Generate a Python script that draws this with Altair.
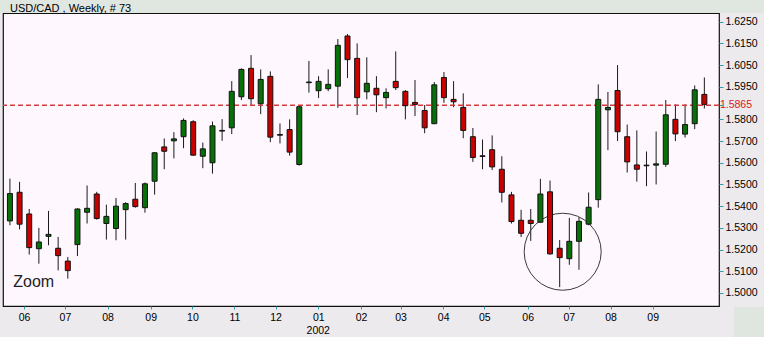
import altair as alt
import pandas as pd

# ---- data (weekly USD/CAD candles) ----
week = list(range(73))
opens = [1.5332, 1.5464, 1.5364, 1.5204, 1.5261, 1.5206, 1.5147, 1.5223, 1.5372, 1.5456,
         1.5320, 1.5297, 1.5384, 1.5432, 1.5393, 1.5515, 1.5673, 1.5701, 1.5720, 1.5789,
         1.5630, 1.5600, 1.5746, 1.5761, 1.5904, 1.6035, 1.5872, 1.5998, 1.5730, 1.5753,
         1.5592, 1.5969, 1.5932, 1.5941, 1.5953, 1.6184, 1.6081, 1.5927, 1.5943, 1.5900,
         1.5975, 1.5929, 1.5878, 1.5841, 1.5780, 1.5993, 1.5892, 1.5855, 1.5720, 1.5632,
         1.5660, 1.5570, 1.5452, 1.5335, 1.5335, 1.5326, 1.5466, 1.5206, 1.5158, 1.5238,
         1.5317, 1.5430, 1.5844, 1.5933, 1.5720, 1.5590, 1.5586, 1.5589, 1.5593, 1.5800,
         1.5732, 1.5780, 1.5915]
highs = [1.5527, 1.5512, 1.5387, 1.5300, 1.5378, 1.5258, 1.5166, 1.5390, 1.5495, 1.5466,
         1.5407, 1.5438, 1.5418, 1.5507, 1.5509, 1.5648, 1.5712, 1.5741, 1.5804, 1.5796,
         1.5693, 1.5790, 1.5801, 1.5976, 1.6035, 1.6096, 1.6030, 1.6021, 1.5781, 1.5800,
         1.5866, 1.6069, 1.5999, 1.6030, 1.6170, 1.6193, 1.6150, 1.6086, 1.5999, 1.5943,
         1.6113, 1.5935, 1.5981, 1.5866, 1.5972, 1.6018, 1.5976, 1.5920, 1.5760, 1.5707,
         1.5726, 1.5630, 1.5466, 1.5383, 1.5387, 1.5526, 1.5518, 1.5244, 1.5346, 1.5349,
         1.5463, 1.5961, 1.5926, 1.6050, 1.5776, 1.5749, 1.5652, 1.5744, 1.5889, 1.5869,
         1.5869, 1.5956, 1.5993]
lows = [1.5312, 1.5293, 1.5177, 1.5135, 1.5220, 1.5104, 1.5066, 1.5170, 1.5320, 1.5338,
        1.5246, 1.5243, 1.5246, 1.5393, 1.5370, 1.5453, 1.5570, 1.5620, 1.5667, 1.5632,
        1.5575, 1.5550, 1.5701, 1.5732, 1.5889, 1.5861, 1.5824, 1.5695, 1.5689, 1.5633,
        1.5587, 1.5923, 1.5898, 1.5930, 1.5853, 1.5990, 1.5820, 1.5892, 1.5833, 1.5850,
        1.5935, 1.5800, 1.5815, 1.5736, 1.5778, 1.5876, 1.5856, 1.5713, 1.5604, 1.5570,
        1.5566, 1.5417, 1.5320, 1.5258, 1.5240, 1.5323, 1.5177, 1.5027, 1.5130, 1.5107,
        1.5312, 1.5393, 1.5658, 1.5700, 1.5555, 1.5513, 1.5492, 1.5500, 1.5581, 1.5700,
        1.5716, 1.5755, 1.5850]
closes = [1.5458, 1.5317, 1.5209, 1.5235, 1.5270, 1.5172, 1.5103, 1.5387, 1.5390, 1.5343,
          1.5353, 1.5400, 1.5412, 1.5398, 1.5503, 1.5646, 1.5653, 1.5710, 1.5795, 1.5635,
          1.5664, 1.5770, 1.5749, 1.5929, 1.6030, 1.5895, 1.5984, 1.5718, 1.5727, 1.5649,
          1.5858, 1.5972, 1.5975, 1.5961, 1.6141, 1.6075, 1.5900, 1.5966, 1.5913, 1.5924,
          1.5946, 1.5863, 1.5869, 1.5761, 1.5959, 1.5900, 1.5881, 1.5749, 1.5624, 1.5629,
          1.5581, 1.5464, 1.5329, 1.5275, 1.5320, 1.5456, 1.5180, 1.5163, 1.5238, 1.5330,
          1.5395, 1.5892, 1.5855, 1.5743, 1.5604, 1.5570, 1.5589, 1.5595, 1.5821, 1.5733,
          1.5776, 1.5936, 1.5869]

month_pos = [1.46, 5.7, 10.12, 14.59, 18.92, 23.28, 27.54, 31.97, 36.4, 40.5,
             44.92, 49.18, 53.68, 57.95, 62.27, 66.64]
month_labels = ["06", "07", "08", "09", "10", "11", "12", "01", "02", "03",
                "04", "05", "06", "07", "08", "09"]
year_label = "2002"          # printed under the January 2002 tick
year_pos = 31.97
price_ticks = [1.625, 1.615, 1.605, 1.595, 1.5865, 1.58, 1.57, 1.56, 1.55,
               1.54, 1.53, 1.52, 1.51, 1.50]
last_price = 1.5865
zoom_center = [57.31, 1.5190]   # week index, price of the circled area
zoom_label = "Zoom"
title_text = "USD/CAD , Weekly, # 73"

df = pd.DataFrame({"week": week, "open": opens, "high": highs,
                   "low": lows, "close": closes})
df["dir"] = ["up" if c >= o else "down" for o, c in zip(opens, closes)]

# ---- styling ----
FONT = "Liberation Sans"
TEAL = "#2E9FA8"
W, H = 716, 293
X0, X1 = -0.2, 73.0
Y0, Y1 = 1.494, 1.629
PX_X = W / (X1 - X0)      # pixels per week
PX_Y = H / (Y1 - Y0)      # pixels per price unit

x_scale = alt.Scale(domain=[X0, X1], nice=False, zero=False)
y_scale = alt.Scale(domain=[Y0, Y1], nice=False, zero=False)

labels_js = "[" + ",".join("'%s'" % l for l in month_labels) + "]"
pos_js = "[" + ",".join(str(p) for p in month_pos) + "]"
x_label_expr = "%s[indexof(%s, datum.value)]" % (labels_js, pos_js)
y_label_expr = "datum.value == %s ? '' : datum.label" % last_price

x_axis = alt.Axis(values=month_pos, labelExpr=x_label_expr, title=None, grid=False,
                  domain=False, tickColor=TEAL, tickSize=3, labelPadding=3,
                  labelFont=FONT, labelFontSize=10.5, labelColor="#000",
                  labelFlush=False, labelOverlap=False, zindex=1)
y_axis = alt.Axis(values=price_ticks, format=".4f", orient="right", title=None,
                  grid=False, domain=False, tickColor=TEAL, tickSize=4,
                  labelPadding=2, labelFont=FONT, labelFontSize=10.5,
                  labelColor="#000", labelExpr=y_label_expr,
                  labelOverlap=False, labelFlush=False, zindex=1)

dummy = pd.DataFrame({"a": [0]})

top_band = alt.Chart(dummy).mark_rect(color="#E0E6E0").encode(
    x=alt.value(-3), x2=alt.value(W + 45), y=alt.value(-13), y2=alt.value(0))
corner = alt.Chart(dummy).mark_rect(color="#DFE6DF").encode(
    x=alt.value(731), x2=alt.value(W + 45), y=alt.value(H + 1), y2=alt.value(H + 31))

base = alt.Chart(df)
wicks = base.mark_rule(color="#1A1A1A", strokeWidth=1, clip=True).encode(
    x=alt.X("week:Q", scale=x_scale, axis=x_axis),
    y=alt.Y("low:Q", scale=y_scale, axis=y_axis),
    y2="high:Q")

last_rule = alt.Chart(pd.DataFrame({"p": [last_price]})).mark_rule(
    color="#D43A3A", strokeDash=[5, 3], strokeWidth=1.5).encode(
    y=alt.Y("p:Q", scale=y_scale, axis=y_axis))

circle = alt.Chart(pd.DataFrame({"w": [zoom_center[0]], "p": [zoom_center[1]]})).mark_point(
    shape="circle", size=5929, filled=False, stroke="#3A3A3A", strokeWidth=1,
    opacity=1).encode(
    x=alt.X("w:Q", scale=x_scale, axis=x_axis),
    y=alt.Y("p:Q", scale=y_scale, axis=y_axis))

bodies = base.mark_bar(size=5, stroke="#111", strokeWidth=1, clip=True).encode(
    x=alt.X("week:Q", scale=x_scale, axis=x_axis),
    y=alt.Y("open:Q", scale=y_scale, axis=y_axis),
    y2="close:Q",
    color=alt.Color("dir:N", scale=alt.Scale(domain=["up", "down"],
                                             range=["#087008", "#C80000"]),
                    legend=None))

zoom_text = alt.Chart(pd.DataFrame({"w": [0.34], "p": [1.5026], "t": [zoom_label]})).mark_text(
    align="left", baseline="alphabetic", font=FONT, fontSize=16, color="#222").encode(
    x=alt.X("w:Q", scale=x_scale, axis=x_axis),
    y=alt.Y("p:Q", scale=y_scale, axis=y_axis),
    text="t:N")

# price flag for the last close, just right of the plot on the price scale
flag = alt.Chart(pd.DataFrame({"w": [X1 + 6 / PX_X], "p": [last_price],
                               "t": ["%.4f" % last_price]})).mark_text(
    align="left", baseline="middle", font=FONT, fontSize=10.5, color="#D42020").encode(
    x=alt.X("w:Q", scale=x_scale, axis=x_axis),
    y=alt.Y("p:Q", scale=y_scale, axis=y_axis),
    text="t:N")

# year under the January tick
year_text = alt.Chart(pd.DataFrame({"w": [year_pos], "p": [Y0 - 27.5 / PX_Y],
                                    "t": [year_label]})).mark_text(
    align="center", baseline="alphabetic", font=FONT, fontSize=10.5, color="#000").encode(
    x=alt.X("w:Q", scale=x_scale, axis=x_axis),
    y=alt.Y("p:Q", scale=y_scale, axis=y_axis),
    text="t:N")

# chart caption in the header strip
title_mark = alt.Chart(pd.DataFrame({"w": [X0 + 2 / PX_X], "p": [Y1 + 1.5 / PX_Y],
                                     "t": [title_text]})).mark_text(
    align="left", baseline="alphabetic", font=FONT, fontSize=11, color="#000").encode(
    x=alt.X("w:Q", scale=x_scale, axis=x_axis),
    y=alt.Y("p:Q", scale=y_scale, axis=y_axis),
    text="t:N")

chart = alt.layer(wicks, top_band, corner, last_rule, circle, bodies, zoom_text,
                  flag, year_text, title_mark).properties(
    width=W, height=H,
    autosize=alt.AutoSizeParams(type="none"),
    padding={"left": 3, "top": 13, "right": 45, "bottom": 31},
    background="#EDEAEE",
).configure_view(fill="#FEF8FE", stroke="#111", strokeWidth=1.2)

chart.save("out.html", embed_options={"renderer": "svg", "actions": False})
